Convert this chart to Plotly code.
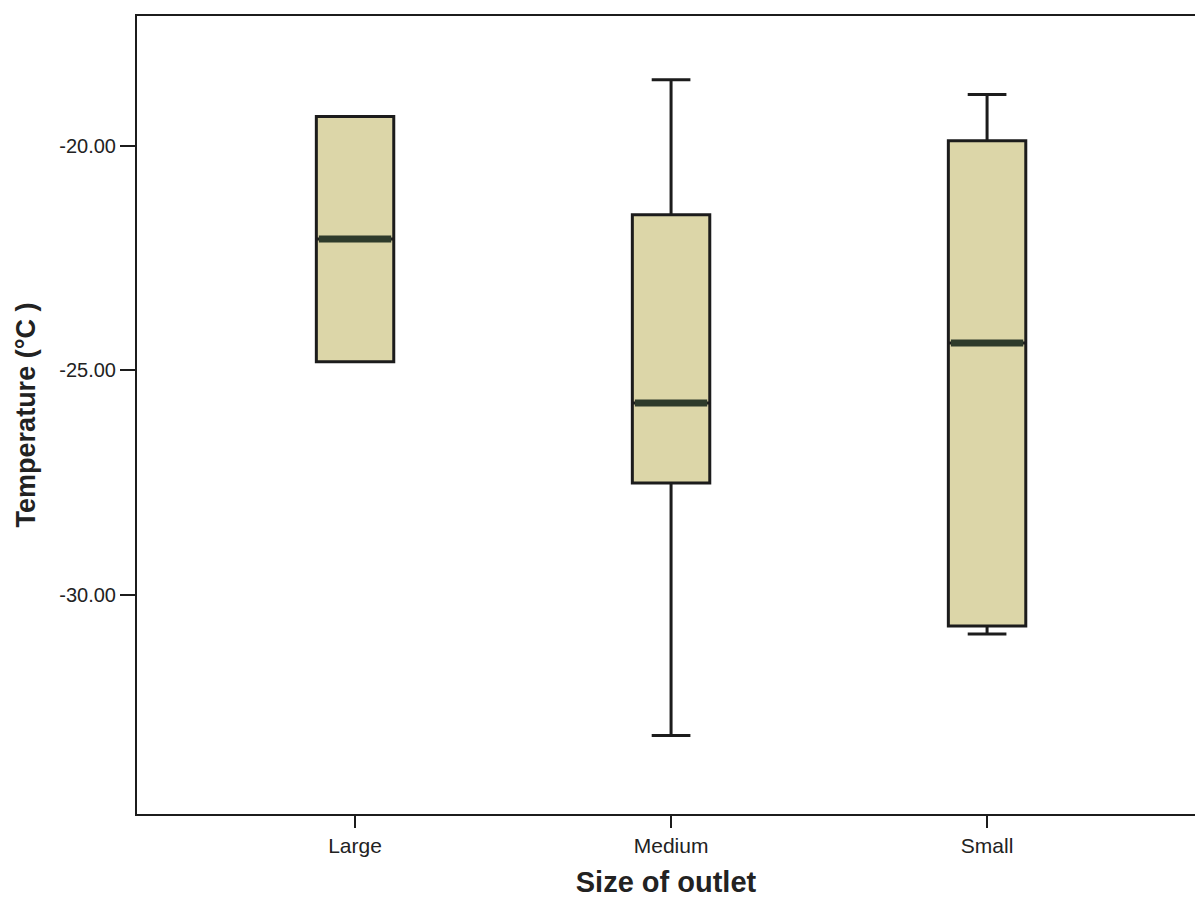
import plotly.graph_objects as go

# Box-plot summary statistics per outlet size (temperature, °C)
categories = ["Large", "Medium", "Small"]
lower_whisker = [-24.81, -33.14, -30.88]
q1_values = [-24.81, -27.51, -30.70]
medians = [-22.07, -25.73, -24.39]
q3_values = [-19.34, -21.53, -19.88]
upper_whisker = [-19.34, -18.52, -18.85]

y_ticks = [-20, -25, -30]
y_tick_labels = ["-20.00", "-25.00", "-30.00"]

BOX_WIDTH = 0.245
FILL = "#dcd6a8"
EDGE = "#1c1c1c"
MEDIAN_COLOR = "#2e3b2b"
FONT = "Arial, Liberation Sans, sans-serif"

positions = list(range(len(categories)))

fig = go.Figure()
for i, name in enumerate(categories):
    fig.add_trace(go.Box(
        x=[positions[i]],
        q1=[q1_values[i]],
        median=[medians[i]],
        q3=[q3_values[i]],
        lowerfence=[lower_whisker[i]],
        upperfence=[upper_whisker[i]],
        width=BOX_WIDTH,
        whiskerwidth=0.5,
        fillcolor=FILL,
        line=dict(color=EDGE, width=3),
        boxpoints=False,
        name=name,
        showlegend=False,
    ))

# Thick median bars drawn over each box
for i in range(len(categories)):
    fig.add_trace(go.Scatter(
        x=[positions[i] - BOX_WIDTH / 2 + 0.008, positions[i] + BOX_WIDTH / 2 - 0.008],
        y=[medians[i], medians[i]],
        mode="lines",
        line=dict(color=MEDIAN_COLOR, width=7),
        showlegend=False,
        hoverinfo="skip",
    ))

fig.update_layout(
    width=1195,
    height=898,
    margin=dict(l=137, r=0, t=16, b=84),
    paper_bgcolor="white",
    plot_bgcolor="white",
    font=dict(family=FONT, color="#222"),
    showlegend=False,
)

fig.update_xaxes(
    range=[-0.69, 2.658],
    tickvals=positions,
    ticktext=categories,
    ticks="outside",
    ticklen=12,
    tickwidth=2,
    tickcolor=EDGE,
    tickfont=dict(size=21, family=FONT, color="#222"),
    showline=True,
    linecolor=EDGE,
    linewidth=2,
    mirror=True,
    showgrid=False,
    zeroline=False,
    title=dict(text="<b>Size of outlet</b>", font=dict(size=29, family=FONT, color="#222"), standoff=16),
)

fig.update_yaxes(
    range=[-34.89, -17.1],
    tickvals=y_ticks,
    ticktext=y_tick_labels,
    ticks="outside",
    ticklen=15,
    tickwidth=2,
    tickcolor=EDGE,
    tickfont=dict(size=20, family=FONT, color="#222"),
    showline=True,
    linecolor=EDGE,
    linewidth=2,
    showgrid=False,
    zeroline=False,
    title=dict(text="<b>Temperature (°C )</b>", font=dict(size=27, family=FONT, color="#222"), standoff=16),
)

fig.write_html("out.html")
